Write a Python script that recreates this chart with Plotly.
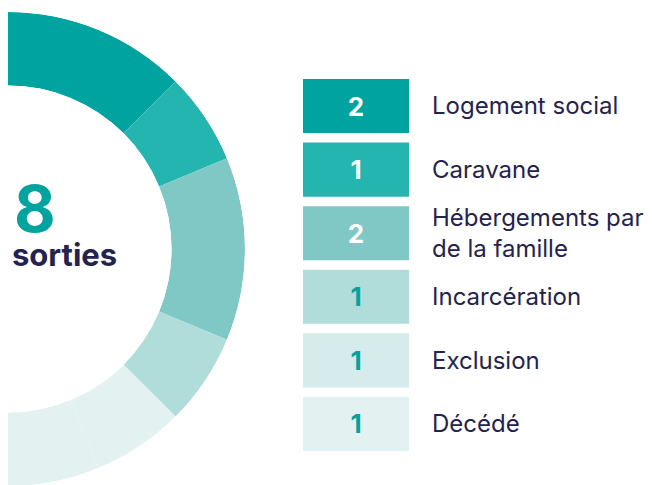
import plotly.graph_objects as go

categories = ["Logement social", "Caravane", "Hébergements par<br>de la famille",
              "Incarcération", "Exclusion", "Décédé"]
values = [2, 1, 2, 1, 1, 1]
ring_colors = ["#00A3A0", "#24B5B1", "#80C8C5", "#B0DCDA", "#E3F2F1", "#E3F2F1"]
box_colors = ["#00A3A0", "#24B5B1", "#80C8C5", "#B0DCDA", "#D6EBEC", "#E3F2F1"]
num_colors = ["#FFFFFF", "#FFFFFF", "#FFFFFF", "#00A39E", "#00A39E", "#00A39E"]
total_label = "sorties"

W, H = 652, 485
NAVY = "#24234F"
TEAL = "#00A39E"
FONT = "Inter"

total = sum(values)
deg_per = 180.0 / total
thetas, widths = [], []
cum = 0
for v in values:
    thetas.append((cum + v / 2) * deg_per)
    widths.append(v * deg_per)
    cum += v

fig = go.Figure()

fig.add_trace(go.Barpolar(
    r=[1] * len(values), theta=thetas, width=widths,
    marker=dict(color=ring_colors, line=dict(width=0)),
    hoverinfo="skip", showlegend=False,
))

ids = list(range(len(categories)))
fig.add_trace(go.Bar(
    orientation="h", x=[1] * len(values), y=ids,
    marker=dict(color=box_colors, line=dict(width=0)),
    text=[str(v) for v in values], textposition="inside",
    insidetextanchor="middle", textangle=0, constraintext="none",
    textfont=dict(family=FONT, size=26, color=num_colors, weight=700),
    hoverinfo="skip", showlegend=False,
    xaxis="x", yaxis="y",
))

R = 237
cx, cy = 0, 241
fig.update_layout(
    width=W, height=H,
    margin=dict(l=0, r=0, t=0, b=0),
    paper_bgcolor="white", plot_bgcolor="white",
    bargap=0.15,
    polar=dict(
        domain=dict(x=[cx / W, (cx + R) / W], y=[(H - cy - R) / H, (H - cy + R) / H]),
        sector=[-90, 90], hole=0.69, bgcolor="rgba(0,0,0,0)",
        radialaxis=dict(visible=False, range=[0, 1]),
        angularaxis=dict(visible=False, rotation=90, direction="clockwise"),
    ),
    xaxis=dict(domain=[295 / W, 401 / W], range=[0, 1], visible=False, fixedrange=True),
    yaxis=dict(
        domain=[(H - 447.8) / H, (H - 66.2) / H],
        range=[len(values) - 0.5, -0.5],
        tickvals=ids, ticktext=categories, side="right",
        ticks="", ticklabelstandoff=22, automargin=False,
        showgrid=False, zeroline=False, showline=False,
        tickfont=dict(family=FONT, size=24, color=NAVY),
    ),
    annotations=[
        dict(text=str(total), x=4 / W, y=(H - 200) / H, xref="paper", yref="paper",
             xanchor="left", yanchor="middle", showarrow=False, height=50,
             font=dict(family=FONT, size=64, color=TEAL, weight=700)),
        dict(text=total_label, x=2 / W, y=(H - 246) / H, xref="paper", yref="paper",
             xanchor="left", yanchor="middle", showarrow=False, height=26,
             font=dict(family=FONT, size=31, color=NAVY, weight=700)),
    ],
)

fig.write_html("out.html")
